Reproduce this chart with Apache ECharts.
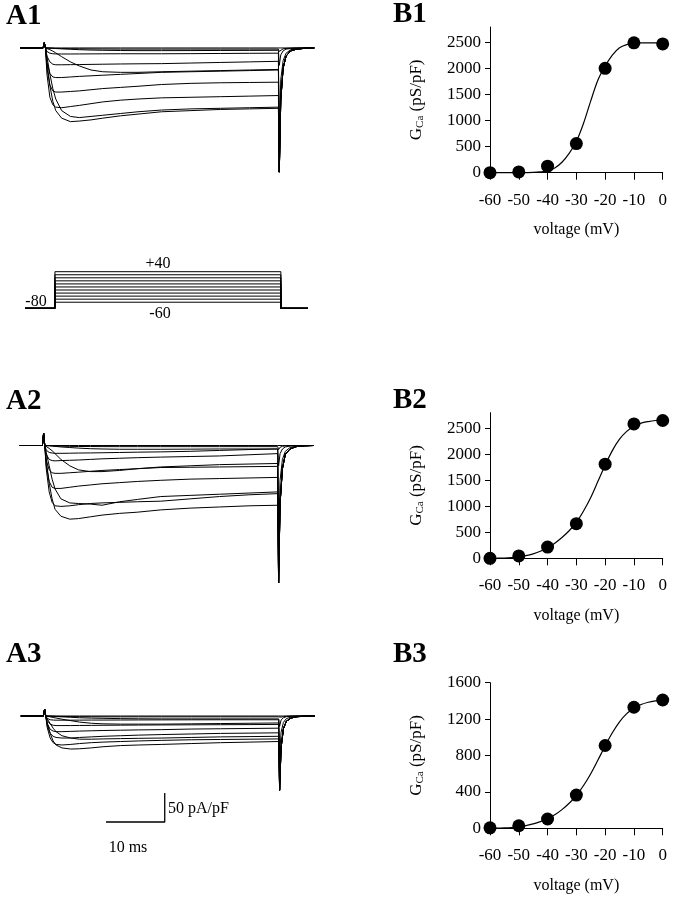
<!DOCTYPE html>
<html><head><meta charset="utf-8">
<script src="https://cdn.jsdelivr.net/npm/echarts@6/dist/echarts.min.js"></script>
<style>html,body{margin:0;padding:0;background:#fff}#c{width:676px;height:900px}</style>
</head><body><div id="c"></div>
<script>
// ---------- DATA ----------
const stepVolts = [-60, -50, -40, -30, -20, -10, 0, 10, 20, 30, 40];
// shared time bases for the current traces (ms)
const preT = [-4, -0.15, 0.05, 0.25];
const stepT = [0.5, 1, 1.5, 2, 3, 4.5, 6, 8, 10, 13, 16, 20, 25, 30, 35, 39.9];
const tailT = [40.05, 40.3, 40.7, 41.2, 42, 43, 44.5, 46];

// A1 currents (pA/pF)
const a1Pre = [0, 0, 9, 0];
const a1Step = [
  [0,0,0,0,0,0,0,0,0,0,0,0,0,0,0,0],
  [0,-0.3,-0.6,-0.8,-1,-1.3,-1.5,-1.7,-1.8,-2,-2,-2,-2,-2,-2,-2],
  [0,-0.3,-0.6,-1,-1.5,-2.2,-3,-3.6,-4,-4.4,-4.6,-4.6,-4.5,-4.3,-4.2,-4],
  [-1,-3,-5.5,-8.5,-15,-24,-31,-38,-41,-42,-42,-41,-40,-39,-38,-37],
  [-15,-45,-70,-88,-108,-118,-120,-118,-116,-113,-110,-107,-105,-104,-103,-102],
  [-25,-65,-92,-108,-121,-127,-126,-124,-121,-117,-114,-110,-108,-106,-105,-104],
  [-45,-85,-98,-102,-103,-101,-99,-96,-93,-90,-88,-86,-85,-84,-83,-82],
  [-35,-64,-74,-76,-76,-75,-74,-72,-70,-68,-66,-63,-61,-60,-59.5,-59],
  [-25,-44,-50,-51,-51,-50,-49,-48,-47,-45.5,-44,-42,-41,-40,-39,-38],
  [-14,-24,-28,-29,-29,-28.8,-28.6,-28.3,-28,-27.6,-27.3,-27,-26,-25,-24,-23],
  [-6,-9,-10,-10.3,-10.4,-10.4,-10.3,-10.2,-10.1,-10,-10,-10,-9.8,-9.5,-9.2,-9]
];
const a1Tail = [
  [-1,0,0,0,0,0,0,0],
  [-6,-3,-1.5,-0.8,-0.3,0,0,0],
  [-30,-12,-5,-2,-1,-0.3,0,0],
  [-140,-55,-22,-9,-3,-1,0,0],
  [-214,-90,-35,-14,-5,-2,-0.5,0],
  [-214,-90,-35,-14,-5,-2,-0.5,0],
  [-214,-90,-35,-14,-5,-2,-0.5,0],
  [-214,-90,-35,-14,-5,-2,-0.5,0],
  [-214,-90,-35,-14,-5,-2,-0.5,0],
  [-214,-90,-35,-14,-5,-2,-0.5,0],
  [-214,-90,-35,-14,-5,-2,-0.5,0]
];

// A2 currents (pA/pF)
const a2Pre = [0, 0, 21, 0];
const a2Step = [
  [0,0,0,0,0,0,0,0,0,0,0,0,0,0,0,0],
  [0,-0.3,-0.6,-0.9,-1.2,-1.5,-1.7,-1.8,-1.9,-2,-2,-2,-2,-2,-2,-2],
  [0,-0.5,-1,-1.5,-2.5,-3.5,-4.5,-5.5,-6,-6.5,-6.5,-6.5,-6.3,-6,-6,-6],
  [-2,-5,-9,-14,-24,-35,-42,-45,-45,-43,-40,-37,-35,-33,-32,-31],
  [-12,-35,-58,-75,-92,-99,-100,-101,-103,-97,-93,-88,-86,-84,-82,-80],
  [-25,-65,-92,-110,-122,-127,-126,-123,-120,-117,-115,-111,-108,-106,-104,-103],
  [-40,-80,-98,-104,-105,-104,-102,-100,-99,-98,-97,-96,-92,-88,-85,-83],
  [-35,-62,-72,-74,-74,-72,-70,-68,-66,-64,-62,-60,-58,-57,-56,-55],
  [-25,-42,-47,-48,-48,-47,-46,-44.5,-43,-41.5,-40,-38,-37.5,-37,-36.5,-36],
  [-15,-24,-26,-26.5,-26,-25.5,-25,-24,-23,-22,-21,-20,-19,-18,-16,-14],
  [-8,-12,-13,-13.5,-13.5,-13.3,-13,-12.8,-12.5,-12,-11.5,-11,-10,-8.5,-7,-6]
];
const a2Tail = [
  [-1.5,0,0,0,0,0,0,0],
  [-7,-3,-1.5,-0.8,-0.3,0,0,0],
  [-35,-14,-6,-2.5,-1,-0.3,0,0],
  [-150,-60,-24,-10,-3.5,-1,0,0],
  [-237,-100,-40,-15,-6,-2,-0.5,0],
  [-237,-100,-40,-15,-6,-2,-0.5,0],
  [-237,-100,-40,-15,-6,-2,-0.5,0],
  [-237,-100,-40,-15,-6,-2,-0.5,0],
  [-237,-100,-40,-15,-6,-2,-0.5,0],
  [-237,-100,-40,-15,-6,-2,-0.5,0],
  [-237,-100,-40,-15,-6,-2,-0.5,0]
];

// A3 currents (pA/pF)
const a3Pre = [0, 0, 12, 0];
const a3Step = [
  [0,0,0,0,0,0,0,0,0,0,0,0,0,0,0,0],
  [0,-0.2,-0.4,-0.6,-0.8,-1,-1.2,-1.3,-1.4,-1.5,-1.5,-1.5,-1.5,-1.5,-1.5,-1.5],
  [0,-0.3,-0.6,-0.9,-1.5,-2.2,-3,-3.6,-4,-4.5,-4.8,-5,-5,-5,-5,-5],
  [-0.5,-1.5,-2.5,-3.5,-5.5,-8,-10.5,-12.5,-13.5,-14,-14,-14,-13.5,-13,-12.5,-12],
  [-5,-13,-21,-27,-34,-38,-40,-40,-39.5,-39,-38.5,-38,-37,-36,-35.5,-35],
  [-12,-30,-43,-50,-55,-57,-56.5,-55,-53,-51,-50,-49,-47.5,-46,-45,-44],
  [-20,-38,-46,-49,-50,-49,-47.5,-46,-45,-44,-43,-42,-41,-40.5,-40,-39.5],
  [-17,-30,-35,-37,-38,-38,-37,-36,-35,-34,-33,-32,-31,-30,-29.5,-29],
  [-13,-23,-26,-27,-27,-26.5,-26,-25.5,-25,-24.5,-24,-23.5,-22.5,-22,-21.5,-21],
  [-8,-14,-16,-16.5,-16.5,-16.5,-16.3,-16.2,-16,-15.8,-15.6,-15.4,-15.2,-15,-14.8,-14.5],
  [-4,-6.5,-7,-7.2,-7.2,-7.2,-7.1,-7,-7,-6.9,-6.8,-6.7,-6.6,-6.5,-6.5,-6.5]
];
const a3Tail = [
  [-1,0,0,0,0,0,0,0],
  [-4,-2,-1,-0.5,-0.2,0,0,0],
  [-18,-7,-3,-1.2,-0.5,-0.2,0,0],
  [-70,-28,-11,-4.5,-1.8,-0.6,0,0],
  [-128,-55,-22,-9,-3.5,-1.2,-0.3,0],
  [-128,-55,-22,-9,-3.5,-1.2,-0.3,0],
  [-128,-55,-22,-9,-3.5,-1.2,-0.3,0],
  [-128,-55,-22,-9,-3.5,-1.2,-0.3,0],
  [-128,-55,-22,-9,-3.5,-1.2,-0.3,0],
  [-128,-55,-22,-9,-3.5,-1.2,-0.3,0],
  [-128,-55,-22,-9,-3.5,-1.2,-0.3,0]
];

// voltage protocol
const holdV = -80;
const protoT = [-5.3, 0, 40, 44.8];

// scale bar (10 ms, 50 pA/pF) in A3 coordinates
const scaleBarT = [10.5, 20.5];
const scaleBarI = [-182.8, -132.8];

// conductance–voltage data
const bVolt = [-60, -50, -40, -30, -20, -10, 0];
const b1G = [0, 15, 125, 560, 2005, 2495, 2475];
const b2G = [0, 45, 215, 665, 1810, 2585, 2650];
const b3G = [5, 28, 102, 365, 910, 1330, 1410];
const fitVolt = [-60,-57.5,-55,-52.5,-50,-47.5,-45,-42.5,-40,-37.5,-35,-32.5,-30,-27.5,-25,-22.5,-20,-17.5,-15,-12.5,-10,-7.5,-5,-2.5,0];
const b1Fit = [0,0,0,0,0,2,5,15,35,90,200,370,600,950,1380,1780,2050,2260,2400,2460,2490,2495,2495,2495,2495];
const b2Fit = [0,2,6,14,28,50,85,135,205,290,400,530,690,910,1170,1480,1790,2070,2290,2440,2540,2600,2630,2650,2660];
const b3Fit = [0,1,4,9,17,30,48,73,105,148,205,275,360,470,600,750,905,1050,1170,1260,1320,1360,1385,1400,1410];
const b12Ticks = [0, 500, 1000, 1500, 2000, 2500];
const b3Ticks = [0, 400, 800, 1200, 1600];

// ---------- CHART ----------
const FONT = '"Liberation Serif","Times New Roman",serif';
const chart = echarts.init(document.getElementById('c'), null, {renderer: 'canvas'});

const grids = [
  {left: 20.5, top: 41, width: 293.75, height: 134.6},   // 0 A1
  {left: 25, top: 268.65, width: 283, height: 41.2},     // 1 protocol
  {left: 19.8, top: 431, width: 293.75, height: 156.6},  // 2 A2
  {left: 20.8, top: 707.3, width: 293.75, height: 118.9},// 3 A3
  {left: 490, top: 27, width: 172.7, height: 145.7},     // 4 B1
  {left: 490, top: 412.7, width: 172.7, height: 145.6},  // 5 B2
  {left: 490, top: 682.7, width: 172.7, height: 145.6}   // 6 B3
].map(g => Object.assign({containLabel: false, outerBoundsMode: 'none'}, g));

function hiddenX(i, min, max) { return {gridIndex: i, type: 'value', min, max, show: false}; }
function hiddenY(i, min, max) { return {gridIndex: i, type: 'value', min, max, show: false}; }

function bX(i) {
  return {
    gridIndex: i, type: 'value', min: -60, max: 0, interval: 10,
    name: 'voltage (mV)', nameLocation: 'middle', nameGap: 49,
    nameTextStyle: {fontFamily: FONT, fontSize: 16, color: '#000'},
    axisLine: {show: true, onZero: false, lineStyle: {color: '#000', width: 1}},
    axisTick: {show: true, inside: false, length: 7, lineStyle: {color: '#000'}},
    axisLabel: {fontFamily: FONT, fontSize: 17, color: '#000', margin: 19, formatter: v => String(v)},
    splitLine: {show: false}
  };
}
function bY(i, max, ticks) {
  return {
    gridIndex: i, type: 'value', min: 0, max: max,
    name: '{g|G}{s|Ca}{g| (pS/pF)}', nameLocation: 'middle', nameGap: 64, nameRotate: 90,
    nameTextStyle: {fontFamily: FONT, color: '#000',
      rich: {g: {fontFamily: FONT, fontSize: 17, color: '#000'},
             s: {fontFamily: FONT, fontSize: 11, color: '#000', padding: [7, 0, 0, 0]}}},
    axisLine: {show: true, onZero: false, lineStyle: {color: '#000', width: 1}},
    axisTick: {show: true, inside: false, length: 5, customValues: ticks, lineStyle: {color: '#000'}},
    axisLabel: {fontFamily: FONT, fontSize: 17, color: '#000', margin: 9, customValues: ticks,
      formatter: v => String(v)},
    splitLine: {show: false}
  };
}

const xAxes = [
  hiddenX(0, -4, 46), hiddenX(1, -5.3, 44.8), hiddenX(2, -4, 46), hiddenX(3, -4, 46),
  bX(4), bX(5), bX(6)
];
const yAxes = [
  hiddenY(0, -220, 12), hiddenY(1, -85, 50), hiddenY(2, -245, 25), hiddenY(3, -190, 15),
  bY(4, 2800, b12Ticks), bY(5, 2800, b12Ticks), bY(6, 1600, b3Ticks)
];

const series = [];
const lineBase = {type: 'line', showSymbol: false, symbol: 'none', silent: true, animation: false,
  lineStyle: {color: '#000', width: 1}, clip: false};

function addTraces(idx, pre, steps, tails) {
  steps.forEach((row, k) => {
    const data = [];
    preT.forEach((t, j) => data.push([t, pre[j]]));
    stepT.forEach((t, j) => data.push([t, row[j]]));
    tailT.forEach((t, j) => data.push([t, tails[k][j]]));
    series.push(Object.assign({}, lineBase, {name: 'A trace ' + stepVolts[k] + ' mV',
      xAxisIndex: idx, yAxisIndex: idx, data}));
  });
}
addTraces(0, a1Pre, a1Step, a1Tail);
addTraces(2, a2Pre, a2Step, a2Tail);
addTraces(3, a3Pre, a3Step, a3Tail);

// protocol
stepVolts.forEach(v => {
  series.push(Object.assign({}, lineBase, {name: 'step ' + v, xAxisIndex: 1, yAxisIndex: 1,
    data: [[protoT[0], holdV], [protoT[1], holdV], [protoT[1], v], [protoT[2], v], [protoT[2], holdV], [protoT[3], holdV]]}));
});

// scale bar
series.push(Object.assign({}, lineBase, {name: 'scale bar', xAxisIndex: 3, yAxisIndex: 3,
  lineStyle: {color: '#000', width: 1.3},
  data: [[scaleBarT[0], scaleBarI[0]], [scaleBarT[1], scaleBarI[0]], [scaleBarT[1], scaleBarI[1]]]}));

// B panels
[[4, b1G, b1Fit], [5, b2G, b2Fit], [6, b3G, b3Fit]].forEach(([idx, g, fit]) => {
  series.push(Object.assign({}, lineBase, {name: 'fit', xAxisIndex: idx, yAxisIndex: idx, smooth: 0.3,
    lineStyle: {color: '#000', width: 1.2}, data: fitVolt.map((v, j) => [v, fit[j]])}));
  series.push({type: 'scatter', name: 'G', xAxisIndex: idx, yAxisIndex: idx, symbol: 'circle', symbolSize: 13,
    itemStyle: {color: '#000', opacity: 1}, silent: true, animation: false, clip: false,
    data: bVolt.map((v, j) => [v, g[j]])});
});

function txt(x, y, s, size, bold, align) {
  return {type: 'text', x: x, y: y, silent: true,
    style: {text: s, fontFamily: FONT, fontSize: size, fontWeight: bold ? 'bold' : 'normal', fill: '#000',
      textAlign: align || 'left', textVerticalAlign: 'middle'}};
}
const graphic = [
  txt(6, 17, 'A1', 29, true), txt(6, 402, 'A2', 29, true), txt(6, 655, 'A3', 29, true),
  txt(393, 15, 'B1', 29, true), txt(393, 401, 'B2', 29, true), txt(393, 655, 'B3', 29, true),
  txt(158, 264, '+40', 16, false, 'center'),
  txt(160, 314, '-60', 16, false, 'center'),
  txt(36, 302, '-80', 16, false, 'center'),
  txt(168, 809, '50 pA/pF', 16, false, 'left'),
  txt(128, 848, '10 ms', 16, false, 'center')
];

chart.setOption({
  backgroundColor: '#fff',
  animation: false,
  grid: grids,
  xAxis: xAxes,
  yAxis: yAxes,
  series: series,
  graphic: graphic
});
</script></body></html>
